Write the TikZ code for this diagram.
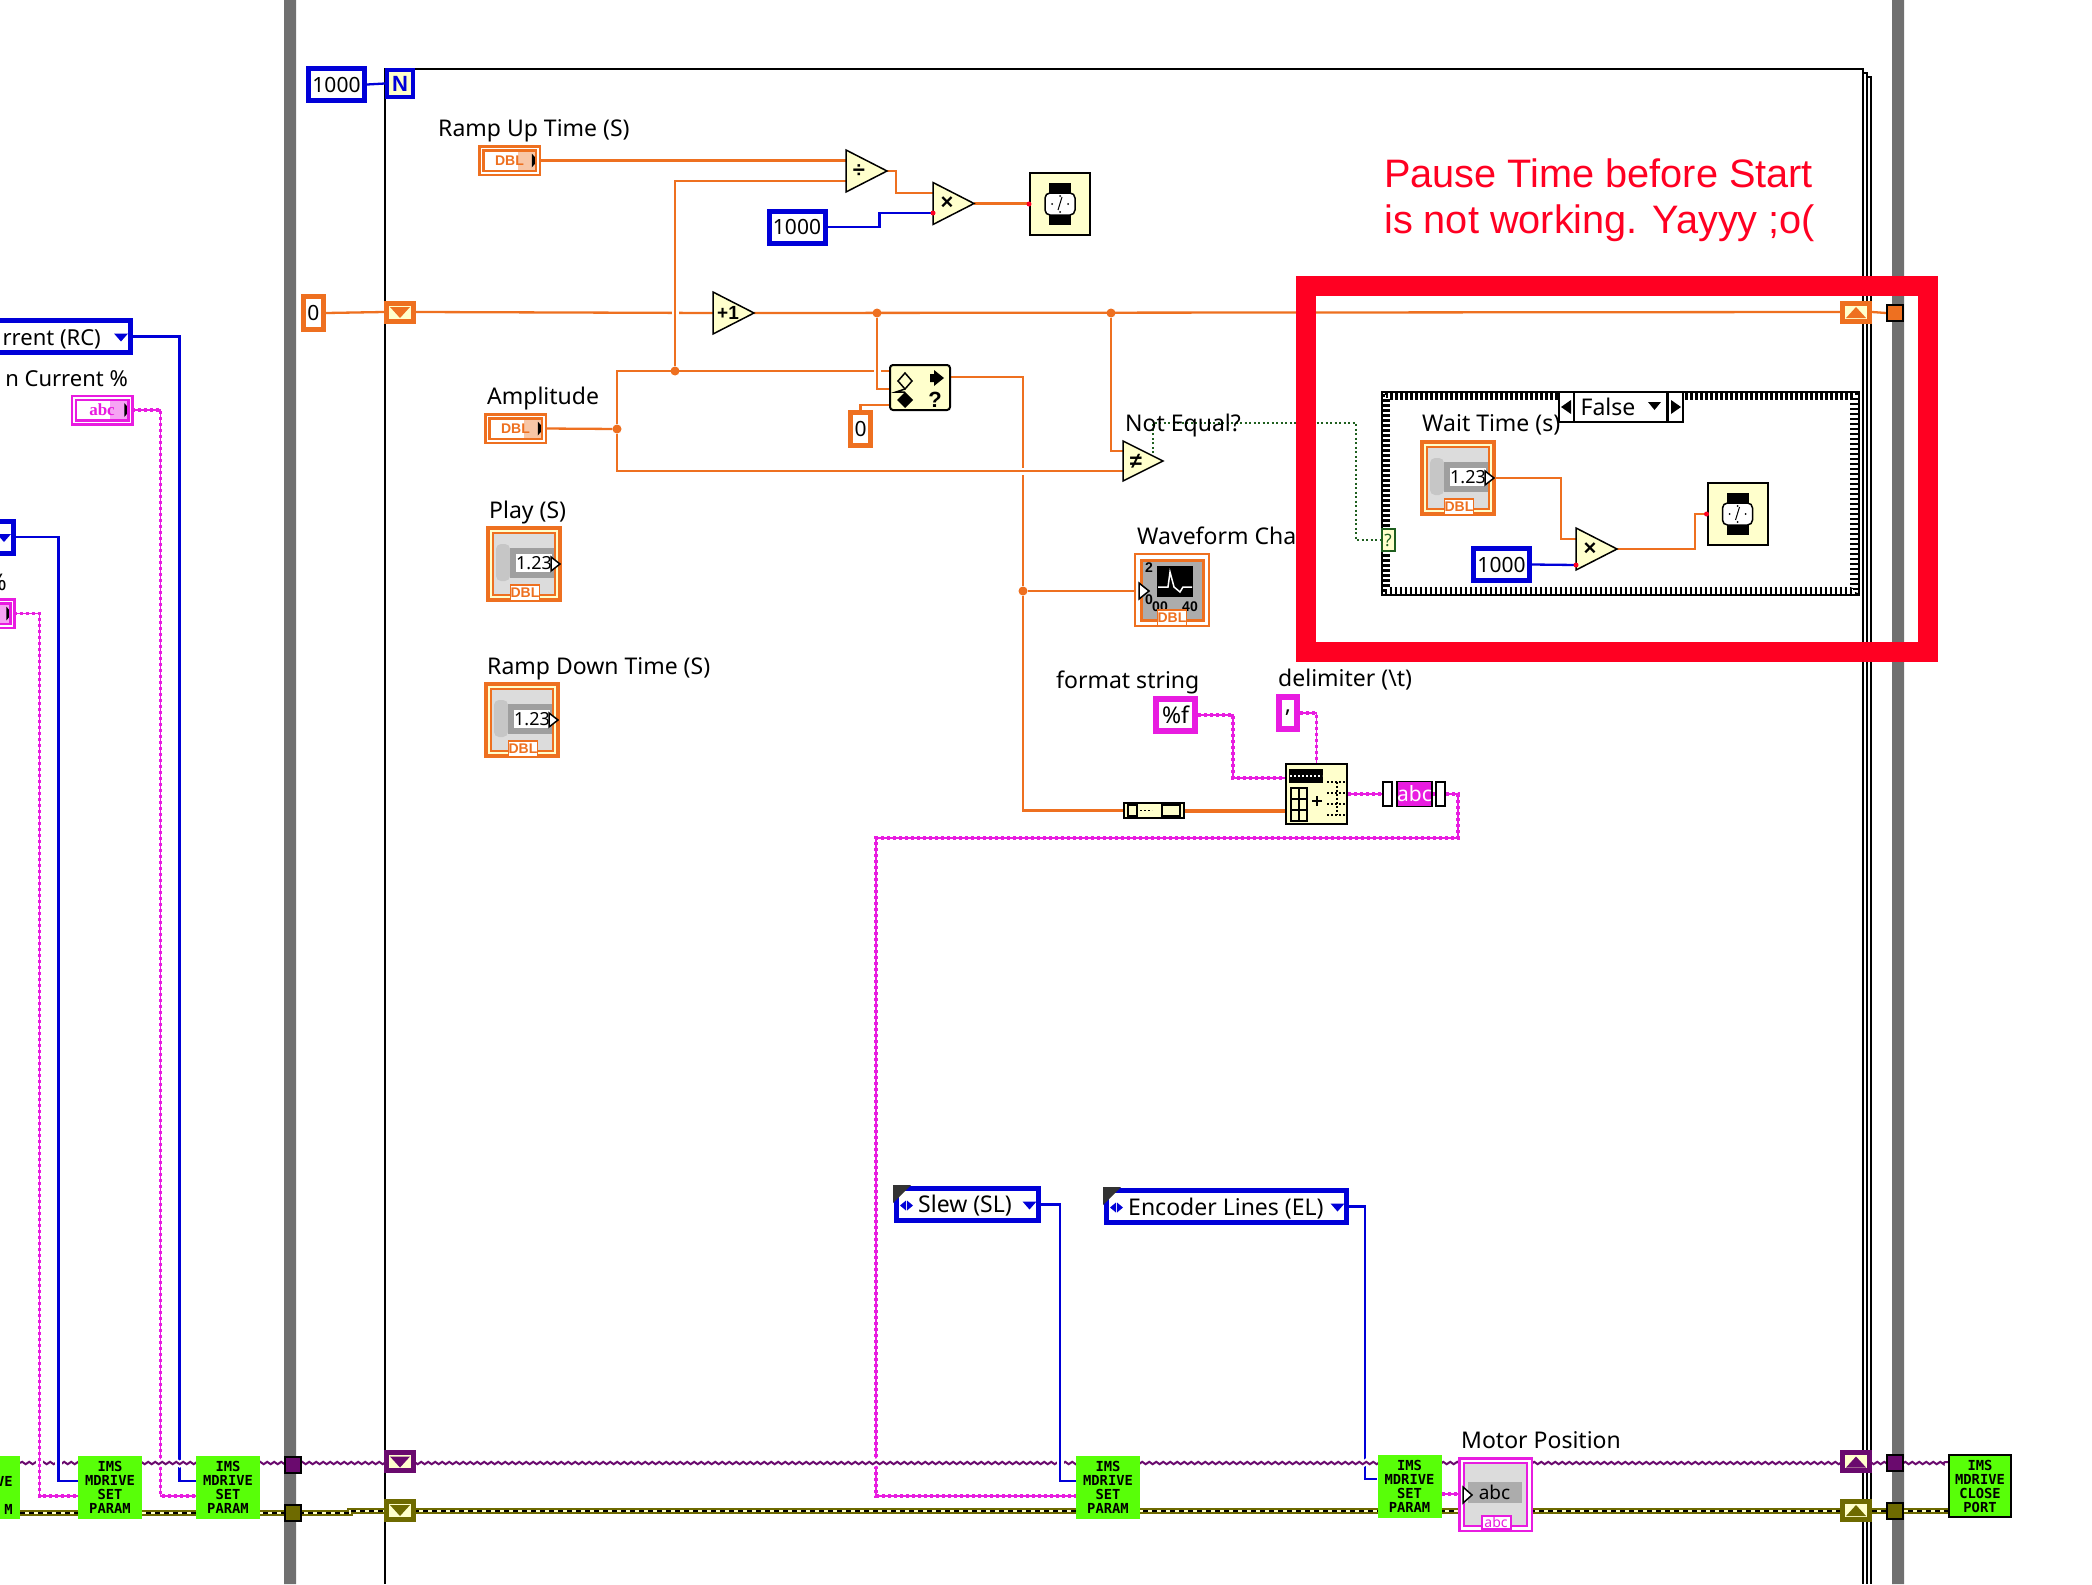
\documentclass[tikz,border=0pt]{standalone}
\usepackage{fontspec}
\setmainfont{Noto Sans}
\setmonofont{DejaVu Sans Mono}
\newfontfamily\lsfont{Liberation Sans}
\newfontfamily\lserif{Liberation Serif}
\usetikzlibrary{calc,backgrounds,shapes.geometric,decorations.pathmorphing}
\definecolor{lvorange}{HTML}{EE7020}
\definecolor{lvblue}{HTML}{0000D8}
\definecolor{lvpink}{HTML}{E81CE0}
\definecolor{lvpurple}{HTML}{6A0A6E}
\definecolor{lvolive}{HTML}{6E6A00}
\definecolor{lvyellow}{HTML}{FFFFCC}
\definecolor{lvgreen}{HTML}{58FF08}
\definecolor{lvred}{HTML}{FF0022}
\definecolor{lvgray}{HTML}{707070}
\definecolor{lvpanel}{HTML}{DCDCDC}
\definecolor{lvdots}{HTML}{1F5F1F}
\newcommand\lblfont{\fontsize{23}{26}\selectfont}
\newcommand\smallfont{\fontsize{14}{14}\selectfont\lsfont\bfseries}
\newcommand\imsfont{\fontsize{13.8}{14}\selectfont\ttfamily\bfseries}
\tikzset{
  lbl/.style={anchor=west,inner sep=0pt,text height=20,text depth=4,font=\lblfont},
  rlbl/.style={anchor=east,inner sep=0pt,text height=20,text depth=4,font=\lblfont},
  dblw/.style={draw=lvorange,line width=2.3},
  intw/.style={draw=lvblue,line width=2.3},
  strw/.style={draw=lvpink,line width=1.6,postaction={draw=lvpink,line width=3.6,dash pattern=on 3pt off 3pt}},
  visaw/.style={draw=lvpurple,line width=2,decorate,decoration={snake,amplitude=1.2pt,segment length=7pt}},
  refw/.style={draw=lvolive,line width=5.5,postaction={draw=lvyellow,line width=2.5},postaction={draw=black,line width=2.5,dash pattern=on 5pt off 4pt}},
  boolw/.style={draw=lvdots,line width=1.5,dash pattern=on 2pt off 2.5pt},
  xover/.style={preaction={draw=white,line width=7}},
  bluebox/.style={draw=lvblue,line width=5,fill=white,minimum width=56,minimum height=32,inner sep=0pt,font=\fontsize{21}{24}\selectfont},
  orbox/.style={draw=lvorange,line width=5,fill=white,minimum width=20,minimum height=33,inner sep=0pt,font=\fontsize{21}{24}\selectfont},
  pinkbox/.style={draw=lvpink,line width=6,fill=white,minimum height=32,inner sep=0pt,font=\lblfont},
  ctlterm/.style={draw=#1,text=#1,line width=2.5,double=white,double distance=1.5,fill=white,
    minimum width=56.5,minimum height=24.5,inner sep=0pt,
    path picture={\fill[#1!40] ($(path picture bounding box.north east)+(-20,0)$) rectangle (path picture bounding box.south east);
      \fill[black] ($(path picture bounding box.east)+(-6,-7)$) -- ++(6,7) -- ++(-6,7) -- cycle;}},
  shiftdn/.style={draw=#1,fill=lvyellow,line width=5,minimum width=27,minimum height=18,inner sep=0pt,
    path picture={\fill[#1] ($(path picture bounding box.center)+(-10,-5)$) -- ++(20,0) -- ++(-10,11) -- cycle;}},
  shiftup/.style={draw=#1,fill=lvyellow,line width=5,minimum width=27,minimum height=18,inner sep=0pt,
    path picture={\fill[#1] ($(path picture bounding box.center)+(-10,6)$) -- ++(20,0) -- ++(-10,-11) -- cycle;}},
  tunnel/.style={draw=black,fill=#1,line width=2,minimum width=16,minimum height=16,inner sep=0pt},
  prim/.style={isosceles triangle,isosceles triangle stretches,anchor=lower side,draw=black,line width=1.5,fill=lvyellow,
    minimum width=42,minimum height=41,inner sep=0pt,outer sep=0pt},
  primsym/.style={inner sep=0pt,font=\fontsize{22}{22}\selectfont\lsfont\bfseries},
  dot/.style={circle,fill=lvorange,inner sep=0pt,minimum size=9},
  fnbox/.style={draw=black,line width=2,fill=lvyellow,inner sep=0pt},
  imsbox/.style={fill=lvgreen,minimum width=64,minimum height=63,inner sep=0pt,align=center,font=\imsfont},
  ringbox/.style={draw=lvblue,line width=5,fill=white,minimum height=32,inner sep=0pt,
    path picture={\fill[lvblue] ($(path picture bounding box.east)+(-16,-3)$) -- ++(14,0) -- ++(-7,8) -- cycle;}},
  numterm/.style={draw=lvorange,line width=5,fill=lvpanel,minimum size=71,inner sep=0pt},
  dbltag/.style={draw=lvorange,line width=1.5,fill=white,text=lvorange,minimum width=28,minimum height=16,inner sep=0pt,font=\smallfont},
  numfield/.style={fill=white,minimum width=35,minimum height=18,inner sep=0pt,font=\fontsize{18}{18}\selectfont},
  checkrow/.style={draw=black,line width=2.5,dash pattern=on 2.5pt off 2.5pt},
}
\newcommand\numctl[3]{%
  \node[numterm] (#1) at (#2,#3) {};
  \begin{scope}[shift={(#2,#3)}]
    \draw[lvyellow,line width=2] (-33,-33) rectangle (33,33);
    \draw[lvorange,line width=1.5] (-31,-31) rectangle (31,31);
    \fill[gray!45,rounded corners=5] (-28,-20) rectangle (-14,17);
    \fill[gray!75] (-14,-16) rectangle (30,14);
    \node[numfield] (#1field) at (10,-1) {1.23};
    \draw[fill=white,line width=1.5] (27,-7) -- (36,0) -- (27,7) -- cycle;
    \node[dbltag] (#1tag) at (1,29) {DBL};
  \end{scope}}
\newcommand\waitbox[3]{%
  \node[fnbox,minimum width=60,minimum height=62] (#1) at (#2,#3) {};
  \begin{scope}[shift={(#2,#3)}]
    \fill (-11,-21) rectangle (11,21);
    \draw[fill=white,line width=1.5,rounded corners=5] (-15,-11) rectangle (15,11);
    \draw[line width=1] (2,-7) -- (-2,6);
    \fill[black] (-8,0) circle (1) (8,0) circle (1) (0,-8) circle (1) (0,8) circle (1);
  \end{scope}}
\newcommand\ringmark[1]{%
  \fill[black!80] ($(#1.north west)+(-1,-1)$) -- ++(18,0) -- ++(-18,18) -- cycle;
  \fill[lvblue] ($(#1.west)+(6,1)$) -- ++(6,-5) -- ++(0,10) -- cycle
    ($(#1.west)+(19,1)$) -- ++(-6,-5) -- ++(0,10) -- cycle;}
\begin{document}
\begin{tikzpicture}[x=1pt,y=-1pt]
      \useasboundingbox (0,0) rectangle (2092,1584);
      \begin{scope}[on background layer]
        \fill[white] (0,0) rectangle (2092,1584);
        \fill[lvgray] (284,0) rectangle (296,1584) (1892,0) rectangle (1904,1584);
        \draw[line width=2] (385,1584) -- (385,69) -- (1863,69) -- (1863,1584);
        \draw[line width=2] (1863,73) -- (1867,73) -- (1867,1584);
        \draw[line width=2] (1867,77) -- (1871,77) -- (1871,1584);
        \node[draw=black,line width=2,fill=white,minimum width=477,minimum height=203,inner sep=0pt] (casebox) at (1620,493.5) {};
        \draw[checkrow] ($(casebox.north west)+(3,3)$) rectangle ($(casebox.south east)+(-3,-3)$);
        \draw[checkrow,dash phase=2.5pt] ($(casebox.north west)+(5.5,5.5)$) rectangle ($(casebox.south east)+(-5.5,-5.5)$);
        \draw[checkrow] ($(casebox.north west)+(8,8)$) rectangle ($(casebox.south east)+(-8,-8)$);
      \end{scope}

      % loop head
      \node[bluebox] (loopcount) at (336.5,84.5) {1000};
      \node[draw=lvblue,line width=4,fill=lvyellow,minimum width=26,minimum height=27,inner sep=0pt,text=lvblue,font=\fontsize{22}{22}\selectfont\lsfont\bfseries] (nbox) at (400,83.5) {N};
      \node[orbox] (zeroinit) at (313.5,313) {0};
      \node[shiftdn=lvorange] (srleft) at (400,312) {};
      \node[shiftup=lvorange] (srright) at (1856,312) {};
      \node[tunnel=lvorange] (tunnelout) at (1895,313) {};

      % ramp up
      \node[lbl] (rampuplbl) at (438,128) {Ramp Up Time (S)};
      \node[ctlterm=lvorange,font=\smallfont] (rampup) at (509.5,160.5) {DBL};
      \node[prim] (divp) at (846,171) {};
      \node[primsym] (divsym) at (859,171) {÷};
      \node[prim] (multp) at (933,203.5) {};
      \node[primsym] (multsym) at (947,203.5) {×};
      \node[bluebox] (kilo) at (797,227) {1000};
      \waitbox{waitup}{1060}{204}

      \node[prim] (incp) at (713,313) {};
      \node[primsym,font=\fontsize{19}{19}\selectfont\lsfont\bfseries] (incsym) at (728,313) {+1};

      % amplitude
      \node[lbl] (ampllbl) at (487,396) {Amplitude};
      \node[ctlterm=lvorange,font=\smallfont] (ampl) at (515.5,428.5) {DBL};
      \node[fnbox,rounded corners=3,minimum width=60,minimum height=45] (selbox) at (920,387.5) {};
      \draw[line width=1.5] (905,373) -- (912,381) -- (905,389) -- (898,381) -- cycle;
      \fill (905,392) -- (913,400) -- (905,408) -- (897,400) -- cycle;
      \draw[line width=1.5] (905,389) -- (896,392) -- (905,392);
      \fill (934,370) -- (944,378) -- (934,386) -- cycle (930,374) rectangle (934,382);
      \node[inner sep=0pt,font=\fontsize{22}{22}\selectfont\lsfont\bfseries] (selq) at (935,400) {?};
      \node[orbox] (zerosel) at (860.5,429) {0};

      \node[lbl] (playlbl) at (489,510) {Play (S)};
      \numctl{play}{524}{564}
      \node[lbl] (rdownlbl) at (487,666) {Ramp Down Time (S)};
      \numctl{rdown}{522}{720}

      % compare and chart
      \node[lbl] (noteqlbl) at (1125,423) {Not Equal?};
      \node[prim,minimum width=40,minimum height=40] (neqp) at (1123,461) {};
      \node[primsym] (neqsym) at (1136,461) {≠};
      \node[lbl] (wavelbl) at (1137,536) {Waveform Cha};
      \node[draw=lvorange,line width=2,fill=white,minimum width=74,minimum height=72,inner sep=0pt] (chart) at (1172,590) {};
      \draw[lvorange,line width=3,fill=gray!65] (1141,560) rectangle (1203,620);
      \fill (1157,566) rectangle (1193,597);
      \draw[white,line width=1.5] (1158,587) -- (1168,587) -- (1170,572) -- (1174,587) -- (1180,592) -- (1183,587) -- (1192,587);
      \draw[fill=white,line width=1.5] (1139,583) -- (1149,591) -- (1139,599) -- cycle;
      \node[inner sep=0pt,font=\smallfont] (chty) at (1149,568) {2};
      \node[inner sep=0pt,font=\smallfont] (chtz) at (1149,600) {0};
      \node[inner sep=0pt,font=\smallfont] (chtx) at (1160,607) {00};
      \node[inner sep=0pt,font=\smallfont] (chtw) at (1190,607) {40};
      \node[dbltag] (charttag) at (1172,618) {DBL};

      % case
      \node[draw=black,line width=2,fill=white,minimum width=15,minimum height=30,inner sep=0pt] (casel) at (1566.5,407) {};
      \node[draw=black,line width=2,fill=white,minimum width=93,minimum height=30,inner sep=0pt] (casemid) at (1620.5,407) {};
      \node[draw=black,line width=2,fill=white,minimum width=15,minimum height=30,inner sep=0pt] (caser) at (1675,407) {};
      \fill (1561,407) -- (1571,400) -- (1571,414) -- cycle (1681,407) -- (1671,400) -- (1671,414) -- cycle;
      \fill (1648,402) -- (1661,402) -- (1654.5,410) -- cycle;
      \node[inner sep=0pt,font=\lblfont] (casetxt) at (1608,407) {False};
      \node[draw=lvdots,line width=2,fill=lvyellow,minimum width=13,minimum height=22,inner sep=0pt,text=lvdots,font=\fontsize{17}{17}\selectfont] (qterm) at (1388,540) {?};
      \node[lbl] (waitlbl) at (1422,423) {Wait Time (s)};
      \numctl{waittime}{1458}{478}
      \node[prim] (casep) at (1576,549) {};
      \node[primsym] (casesym) at (1590,549) {×};
      \node[bluebox] (casekilo) at (1501.5,564.5) {1000};
      \waitbox{waitcase}{1737.5}{514}

      % string
      \node[lbl] (fmtlbl) at (1056,680) {format string};
      \node[lbl] (delimlbl) at (1278,678) {delimiter (\textbackslash t)};
      \node[pinkbox,minimum width=39,minimum height=32] (pctf) at (1175.5,715) {\%f};
      \node[pinkbox,minimum width=18,minimum height=32] (delim) at (1288,713) {,};
      \node[fnbox,minimum width=61,minimum height=60] (fmtbox) at (1316.5,794) {};
      \fill (1289,769) rectangle (1323,783);
      \draw[white,line width=2,dash pattern=on 2pt off 2pt] (1290,776) -- (1322,776);
      \draw[line width=1.5] (1291,788) rectangle (1307,821) (1299,788) -- (1299,821) (1291,799) -- (1307,799) (1291,810) -- (1307,810);
      \draw[line width=2] (1312,801) -- (1322,801) (1317,796) -- (1317,806);
      \draw[line width=1.5,dash pattern=on 2pt off 2pt] (1327,782) -- (1347,782) (1327,793) -- (1347,793) (1327,804) -- (1347,804) (1327,815) -- (1347,815) (1337,782) -- (1337,815);
      \node[fnbox,minimum width=60,minimum height=15] (bldarr) at (1154,810.5) {};
      \draw[line width=1.5] (1128,805) rectangle (1137,816) (1162,805) rectangle (1180,816);
      \draw[line width=1.5,dash pattern=on 2pt off 2pt] (1140,810.5) -- (1152,810.5);
      \node[draw=black,line width=2,fill=white,minimum width=9,minimum height=24,inner sep=0pt] (brl) at (1387.5,794) {};
      \node[draw=black,line width=1.5,fill=lvpink,text=white,minimum width=34,minimum height=25,inner sep=0pt,font=\fontsize{21}{21}\selectfont] (strind) at (1414.5,794) {abc};
      \node[draw=black,line width=2,fill=white,minimum width=9,minimum height=24,inner sep=0pt] (brr) at (1440.5,794) {};

      % rings
      \node[ringbox,minimum width=142] (slew) at (967.5,1204.5) {};
      \node[lbl] (slewtxt) at (918,1204) {Slew (SL)};
      \ringmark{slew}
      \node[ringbox,minimum width=240] (enclines) at (1226.5,1206.5) {};
      \node[lbl] (enctxt) at (1128,1207) {Encoder Lines (EL)};
      \ringmark{enclines}
      \node[ringbox,minimum width=150] (rcring) at (55,336.5) {};
      \node[rlbl,font=\fontsize{22}{24}\selectfont] (rctxt) at (101,337) {rrent (RC)};
      \node[rlbl,font=\fontsize{22}{24}\selectfont] (rclbl) at (128,378) {n Current \%};
      \node[ctlterm=lvpink,font=\fontsize{17}{17}\selectfont\lserif\bfseries] (rcterm) at (102,410) {abc};
      \node[ringbox,minimum width=60] (lring) at (-17,537) {};
      \node[rlbl] (lpct) at (7,582) {\%};
      \node[ctlterm=lvpink] (lterm) at (-16,613.5) {};

      % bottom row
      \node[imsbox] (imsa) at (-12,1487.5) {};
      \node[inner sep=0pt,anchor=east,font=\imsfont] (imsave) at (13,1481) {VE};
      \node[inner sep=0pt,anchor=east,font=\imsfont] (imsam) at (13,1509) {M};
      \node[imsbox] (imsb) at (110,1487.5) {IMS\\MDRIVE\\SET\\PARAM};
      \node[imsbox] (imsc) at (228,1487.5) {IMS\\MDRIVE\\SET\\PARAM};
      \node[imsbox] (imsd) at (1108,1487.5) {IMS\\MDRIVE\\SET\\PARAM};
      \node[imsbox] (imse) at (1409.5,1486) {IMS\\MDRIVE\\SET\\PARAM};
      \node[imsbox,draw=black,line width=2,minimum width=62,minimum height=62] (imsclose) at (1980,1486) {IMS\\MDRIVE\\CLOSE\\PORT};
      \node[tunnel=lvpurple] (tunpl) at (293,1465) {};
      \node[tunnel=lvolive] (tunol) at (293,1513) {};
      \node[shiftdn=lvpurple] (srpl) at (400,1461.5) {};
      \node[shiftdn=lvolive] (srol) at (400,1510) {};
      \node[shiftup=lvpurple] (srpr) at (1856,1461.5) {};
      \node[shiftup=lvolive] (sror) at (1856,1510) {};
      \node[tunnel=lvpurple] (tunpr) at (1895,1463) {};
      \node[tunnel=lvolive] (tunor) at (1895,1511) {};

      \node[lbl] (motorlbl) at (1461,1440) {Motor Position};
      \node[draw=lvpink,line width=2.5,fill=white,minimum size=72.5,inner sep=0pt] (motor) at (1495.5,1494.5) {};
      \draw[lvpink,line width=2,fill=lvpanel] (1464,1463) rectangle (1527,1526);
      \node[fill=gray!65,minimum width=54,minimum height=21,inner sep=0pt,font=\fontsize{19}{19}\selectfont] (motorfield) at (1494.5,1492.5) {abc};
      \draw[fill=white,line width=1.5] (1463,1487) -- (1472,1495) -- (1463,1503) -- cycle;
      \node[draw=lvpink,line width=2,fill=white,text=lvpink,minimum width=29,minimum height=13,inner sep=0pt,font=\fontsize{14}{14}\selectfont] (motortag) at (1496,1522) {abc};

      % wire junctions
      \node[dot] (ampjn) at (617,429) {};
      \node[dot] (upjn) at (675,371) {};
      \node[dot] (jna) at (877,313) {};
      \node[dot] (jnb) at (1111,313) {};
      \node[dot] (chartjn) at (1023,591) {};
      \coordinate (divb) at (846,181);
      \coordinate (multa) at (933,193);
      \coordinate (multb) at (933,213);
      \coordinate (sela) at (889,389);
      \coordinate (selc) at (889,405);
      \coordinate (seld) at (951,377);
      \coordinate (neqa) at (1123,451);
      \coordinate (neqb) at (1123,471);
      \coordinate (neqout) at (1153,453);
      \coordinate (boolbend) at (1356,423);
      \coordinate (casea) at (1576,539);
      \coordinate (caseb) at (1576,565);
      \coordinate (fmta) at (1285,778);
      \coordinate (fmtb) at (1348,794);
      \coordinate (strbend) at (1458,838);
      \coordinate (strleft) at (876,838);
      \coordinate (slewb) at (1076,1496);
      \coordinate (slewa) at (1076,1481);
      \coordinate (enca) at (1377,1479);
      \coordinate (imsba) at (78,1481);
      \coordinate (imsbb) at (78,1496);
      \coordinate (imsca) at (196,1481);
      \coordinate (imscb) at (196,1496);
      \coordinate (visaleft) at (20,1463);
      \coordinate (visastep) at (350,1463);
      \coordinate (visaright) at (1948,1462);
      \coordinate (refleft) at (20,1513);
      \coordinate (refstep) at (350,1513);
      \coordinate (refright) at (1948,1511);
      \coordinate (motorin) at (1442,1494);

      \begin{scope}[on background layer]
        \draw[intw] (loopcount.east) -- (nbox.west);
        \draw[dblw] (zeroinit.east) -- (srleft.west);
        \draw[dblw] (srleft.east) -- (incp.lower side);
        \draw[dblw] (incp.apex) -- (srright.west);
        \draw[dblw] (srright.east) -- (tunnelout.west);
        \draw[dblw] (rampup.east) -- (rampup.east -| divp.lower side);
        \draw[dblw] (ampl.east) -- (ampjn);
        \draw[dblw] (ampjn) |- (selbox.west |- upjn);
        \draw[dblw,xover] (upjn) |- (divb);
        \draw[dblw] (divp.apex) -- ++(9,0) |- (multa);
        \draw[intw] (kilo.east) -- ++(52,0) |- (multb);
        \draw[dblw] (multp.apex) -- (waitup.west |- multp.apex);
        \draw[dblw,xover] (jna) |- (sela);
        \draw[dblw] (zerosel.north) |- (selc);
        \draw[dblw] (seld) -| (chartjn);
        \draw[dblw] (chartjn) |- (bldarr.west);
        \draw[dblw] (chartjn) -- (chart.west |- chartjn);
        \draw[dblw] (jnb) |- (neqa);
        \draw[dblw,xover] (ampjn) |- (neqb);
        \draw[draw=lvorange,line width=4] (bldarr.east) -- (fmtbox.west |- bldarr.east);
        \draw[boolw] (neqout) |- (boolbend) |- (qterm.west);
        \draw[dblw] (waittime.east) -- ++(65,0) |- (casea);
        \draw[intw] (casekilo.east) -- (caseb);
        \draw[dblw] (casep.apex) -- ++(78,0) |- (waitcase.west);
        \draw[strw] (pctf.east) -- ++(35,0) |- (fmta);
        \draw[strw] (delim.east) -| (fmtbox.north);
        \draw[strw] (fmtb) -- (brl.west);
        \draw[strw] (strind.east) -- (brr.west);
        \draw[strw] (brr.east) -| (strbend) -- (strleft) |- (slewb);
        \draw[intw] (slew.east) -- ++(19,0) |- (slewa);
        \draw[intw] (enclines.east) -- ++(16,0) |- (enca);
        \draw[strw] (motorin) -- (motor.west |- motorin);
        \draw[strw] (rcterm.east) -- ++(29,0) |- (imscb);
        \draw[intw,xover] (rcring.east) -- ++(47,0) |- (imsca);
        \draw[visaw,preaction={draw=white,line width=6}] (visaleft) -- (visastep) -- ++(0,-1) -- (visaright);
        \draw[strw,preaction={draw=white,line width=7}] (lterm.east) -- ++(26,0) |- (imsbb);
        \draw[intw,xover] (lring.east) -- ++(43,0) |- (imsba);
        \draw[intw,xover] (slew.east) -- ++(19,0) |- (slewa);
        \draw[refw] (refleft) -- (refstep) -- ++(0,-2) -- (refright);
      \end{scope}

      % coercion dots
      \fill[lvred] (multb) circle (2.5) (caseb) circle (2.5) (waitup.west) circle (2.5) (waitcase.west) circle (2.5);

      % frame and remark
      \draw[lvred,line width=20] (1305.5,286) rectangle (1928,652);
      \node[anchor=west,inner sep=0pt,text=lvred,font=\fontsize{39.7}{44}\selectfont\lsfont] (remarka) at (1384,173) {Pause Time before Start};
      \node[anchor=west,inner sep=0pt,text=lvred,font=\fontsize{39.7}{44}\selectfont\lsfont] (remarkb) at (1384,223) {is not working. Yayyy ;o(};
\end{tikzpicture}
\end{document}
